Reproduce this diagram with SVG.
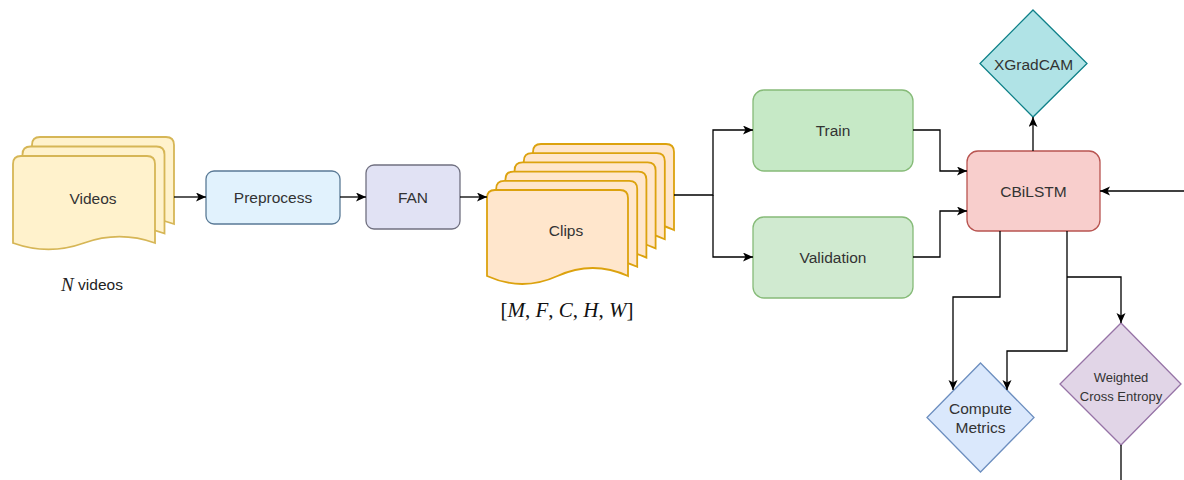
<svg xmlns="http://www.w3.org/2000/svg" width="1184" height="480" viewBox="0 0 1184 480">
<style>
.lbl{font-family:"Liberation Sans",Arial,sans-serif;font-size:15.5px;fill:#333;text-anchor:middle;dominant-baseline:central}
.sm{font-size:13px}
.math{font-family:"Liberation Serif","Times New Roman",serif;font-size:21px;fill:#111}
.edge{fill:none;stroke:#000;stroke-width:1.3}
.vid{fill:#fff2cc;stroke:#d6b656;stroke-width:1.8}
.clip{fill:#ffe6cc;stroke:#dca20e;stroke-width:1.8}
</style>
<defs>
<marker id="ah" markerUnits="userSpaceOnUse" markerWidth="12" markerHeight="10" refX="10" refY="4.5" orient="auto">
<path d="M0,0 L10,4.5 L0,9 L2.5,4.5 Z" fill="#000"/>
</marker>
<path id="pgV" d="M0,8 Q0,0 8,0 H134 Q142,0 142,8 V87 Q106.5,74.3 71,87 Q35.5,99.7 0,87 Z"/>
<path id="pgC" d="M0,8 Q0,0 8,0 H133 Q141,0 141,8 V86 Q105.75,70 70.5,86 Q35.25,102 0,86 Z"/>
</defs>

<g id="videos">
<use href="#pgV" class="vid" x="32" y="137"/>
<use href="#pgV" class="vid" x="22.5" y="146.5"/>
<use href="#pgV" class="vid" x="13" y="156"/>
<text class="lbl" x="93" y="198">Videos</text>
</g>
<g id="videos-label">
<text x="92" y="284" style="dominant-baseline:central;font-size:15.5px;font-family:'Liberation Sans',Arial,sans-serif;fill:#222" text-anchor="middle"><tspan style="font-family:'Liberation Serif','Times New Roman',serif;font-style:italic;font-size:19px">N</tspan> videos</text>
</g>

<g id="preprocess">
<rect x="206" y="171" width="134" height="53" rx="8" fill="#e1f2fd" stroke="#5a7a96" stroke-width="1.3"/>
<text class="lbl" x="273" y="197.5">Preprocess</text>
</g>

<g id="fan">
<rect x="366" y="165" width="94" height="64" rx="8" fill="#e1e2f4" stroke="#707080" stroke-width="1.3"/>
<text class="lbl" x="413" y="197">FAN</text>
</g>

<g id="clips">
<use href="#pgC" class="clip" x="533" y="144"/>
<use href="#pgC" class="clip" x="523.8" y="153.2"/>
<use href="#pgC" class="clip" x="514.6" y="162.4"/>
<use href="#pgC" class="clip" x="505.4" y="171.6"/>
<use href="#pgC" class="clip" x="496.2" y="180.8"/>
<use href="#pgC" class="clip" x="487" y="190"/>
<text class="lbl" x="566" y="230">Clips</text>
</g>
<g id="clips-label">
<text class="math" x="567" y="317" text-anchor="middle">[<tspan font-style="italic">M</tspan>, <tspan font-style="italic">F</tspan>, <tspan font-style="italic">C</tspan>, <tspan font-style="italic">H</tspan>, <tspan font-style="italic">W</tspan>]</text>
</g>

<g id="train">
<rect x="753" y="90" width="160" height="81" rx="11" fill="#c6e9c6" stroke="#86bb78" stroke-width="1.3"/>
<text class="lbl" x="833" y="130.5">Train</text>
</g>

<g id="validation">
<rect x="753" y="217" width="160" height="81" rx="11" fill="#d0ead0" stroke="#86bb78" stroke-width="1.3"/>
<text class="lbl" x="833" y="257.5">Validation</text>
</g>

<g id="cbilstm">
<rect x="967" y="151" width="133" height="80" rx="11" fill="#f8cecc" stroke="#b85450" stroke-width="1.3"/>
<text class="lbl" x="1033.5" y="191">CBiLSTM</text>
</g>

<g id="xgradcam">
<polygon points="1033,10 1087,63.5 1033,117 980,63.5" fill="#b0e3e6" stroke="#0e8088" stroke-width="1.3"/>
<text class="lbl" x="1033.5" y="64">XGradCAM</text>
</g>

<g id="compute-metrics">
<polygon points="980.5,363 1034,417.5 980.5,472 927,417.5" fill="#dae8fc" stroke="#6c8ebf" stroke-width="1.3"/>
<text class="lbl" x="980.5" y="408">Compute</text>
<text class="lbl" x="980.5" y="427">Metrics</text>
</g>

<g id="weighted-ce">
<polygon points="1121,323 1181,384 1121,445 1060,384" fill="#e1d5e7" stroke="#9673a6" stroke-width="1.3"/>
<text class="lbl sm" x="1121" y="377">Weighted</text>
<text class="lbl sm" x="1121" y="396">Cross Entropy</text>
</g>

<g id="connectors">
<path class="edge" d="M174,197 H206" marker-end="url(#ah)"/>
<path class="edge" d="M340,197 H366" marker-end="url(#ah)"/>
<path class="edge" d="M460,197 H487" marker-end="url(#ah)"/>
<path class="edge" d="M674,195 H713 V130 H753" marker-end="url(#ah)"/>
<path class="edge" d="M713,195 V257 H753" marker-end="url(#ah)"/>
<path class="edge" d="M913,130 H940 V171 H967" marker-end="url(#ah)"/>
<path class="edge" d="M913,257 H940 V211 H967" marker-end="url(#ah)"/>
<path class="edge" d="M1184,191 H1100" marker-end="url(#ah)"/>
<path class="edge" d="M1033,151 V117" marker-end="url(#ah)"/>
<path class="edge" d="M1000,231 V297 H953 V390" marker-end="url(#ah)"/>
<path class="edge" d="M1067,231 V351 H1007 V390" marker-end="url(#ah)"/>
<path class="edge" d="M1067,277 H1121 V323" marker-end="url(#ah)"/>
<path class="edge" d="M1121,445 V480"/>
</g>
</svg>
